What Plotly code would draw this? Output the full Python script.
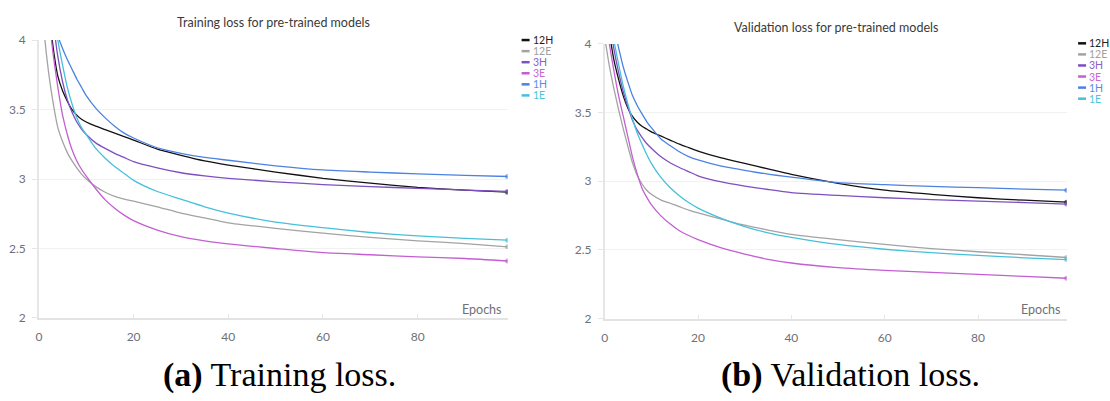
import plotly.graph_objects as go

# ---- data -------------------------------------------------------------
epochs = [0, 1, 2, 3, 4, 5, 6, 7, 8, 9, 10, 12, 14, 16, 18, 20, 25, 30, 35, 40, 50, 60, 70, 80, 90, 99]
series_names = ["12H", "12E", "3H", "3E", "1H", "1E"]

train_12H = [5.0, 4.6, 4.25, 3.95, 3.74, 3.635, 3.56, 3.50, 3.46, 3.43, 3.41, 3.38, 3.355, 3.33, 3.305, 3.28, 3.215, 3.17, 3.13, 3.10, 3.05, 3.005, 2.97, 2.94, 2.92, 2.905]
train_12E = [4.6, 4.1, 3.78, 3.55, 3.37, 3.27, 3.19, 3.13, 3.08, 3.035, 3.00, 2.945, 2.905, 2.875, 2.855, 2.84, 2.80, 2.755, 2.72, 2.685, 2.645, 2.61, 2.58, 2.555, 2.535, 2.512]
train_3H = [5.3, 4.9, 4.5, 4.15, 3.88, 3.70, 3.57, 3.48, 3.41, 3.36, 3.32, 3.26, 3.22, 3.185, 3.155, 3.125, 3.08, 3.045, 3.022, 3.005, 2.98, 2.96, 2.945, 2.933, 2.92, 2.91]
train_3E = [5.2, 4.6, 4.2, 3.90, 3.66, 3.46, 3.32, 3.21, 3.13, 3.07, 3.02, 2.93, 2.85, 2.79, 2.74, 2.70, 2.632, 2.585, 2.555, 2.533, 2.50, 2.47, 2.455, 2.44, 2.428, 2.41]
train_1H = [5.3, 4.9, 4.45, 4.2, 4.03, 3.94, 3.86, 3.79, 3.72, 3.66, 3.60, 3.51, 3.44, 3.38, 3.33, 3.295, 3.225, 3.185, 3.155, 3.135, 3.095, 3.065, 3.05, 3.037, 3.026, 3.018]
train_1E = [5.6, 5.1, 4.7, 4.35, 4.0, 3.82, 3.66, 3.54, 3.44, 3.37, 3.32, 3.22, 3.15, 3.09, 3.04, 2.99, 2.91, 2.855, 2.80, 2.755, 2.69, 2.65, 2.615, 2.59, 2.573, 2.56]

val_12H = [4.3, 4.08, 3.88, 3.74, 3.62, 3.53, 3.47, 3.43, 3.40, 3.38, 3.36, 3.33, 3.30, 3.27, 3.245, 3.22, 3.17, 3.13, 3.09, 3.05, 2.985, 2.935, 2.905, 2.88, 2.862, 2.848]
val_12E = [4.05, 3.84, 3.67, 3.52, 3.38, 3.25, 3.13, 3.04, 2.98, 2.935, 2.905, 2.865, 2.84, 2.815, 2.79, 2.77, 2.725, 2.68, 2.645, 2.614, 2.575, 2.54, 2.51, 2.487, 2.465, 2.445]
val_3H = [4.45, 4.18, 3.96, 3.79, 3.65, 3.54, 3.44, 3.37, 3.32, 3.275, 3.24, 3.18, 3.135, 3.10, 3.07, 3.04, 2.995, 2.965, 2.94, 2.918, 2.897, 2.88, 2.867, 2.856, 2.845, 2.834]
val_3E = [4.2, 4.0, 3.80, 3.62, 3.47, 3.32, 3.17, 3.05, 2.95, 2.885, 2.83, 2.75, 2.69, 2.64, 2.605, 2.575, 2.515, 2.47, 2.432, 2.405, 2.372, 2.352, 2.337, 2.322, 2.307, 2.294]
val_1H = [4.6, 4.35, 4.12, 3.97, 3.83, 3.72, 3.62, 3.55, 3.49, 3.435, 3.39, 3.31, 3.26, 3.215, 3.18, 3.155, 3.11, 3.08, 3.052, 3.03, 2.99, 2.975, 2.963, 2.953, 2.943, 2.935]
val_1E = [4.4, 4.2, 4.02, 3.85, 3.69, 3.56, 3.45, 3.35, 3.27, 3.195, 3.13, 3.03, 2.955, 2.895, 2.845, 2.805, 2.73, 2.67, 2.625, 2.592, 2.54, 2.505, 2.48, 2.46, 2.443, 2.43]

x_ticks = [0, 20, 40, 60, 80]
y_ticks = [2, 2.5, 3, 3.5, 4]
y_tick_labels = ["2", "2.5", "3", "3.5", "4"]

train = [train_12H, train_12E, train_3H, train_3E, train_1H, train_1E]
val = [val_12H, val_12E, val_3H, val_3E, val_1H, val_1E]

# ---- styling ----------------------------------------------------------
line_colors = ["#111111", "#a3a3a3", "#7e4fc0", "#c35fd2", "#4c82e2", "#46c0da"]
text_colors = ["#222222", "#a0a0a0", "#8a5fcc", "#c768d4", "#5a8ce6", "#4cc3dc"]

W, H = 1110, 401
TICK_FONT = dict(family="Lato", size=12, color="#707078")


def px(x):
    return x / W


def py(y):
    return 1 - y / H


fig = go.Figure()

panels = [
    dict(data=train, xa="x", ya="y", xdom=(36, 506), ydom=(322, 33.3),
         title="Training loss for pre-trained models", title_y=15,
         caption="<b>(a)</b> Training loss.", cap_x=277,
         leg_x=520, leg_y=[33.3, 44.8, 56.3, 67.8, 79.3, 90.8]),
    dict(data=val, xa="x2", ya="y2", xdom=(603.3, 1066.6), ydom=(322.7, 37.3),
         title="Validation loss for pre-trained models", title_y=20,
         caption="<b>(b)</b> Validation loss.", cap_x=850,
         leg_x=1078, leg_y=[36.7, 48.2, 59.7, 71.2, 82.7, 94.2]),
]

shapes = []
annotations = []
n = len(epochs)

for p in panels:
    for name, vals, lc in zip(series_names, p["data"], line_colors):
        fig.add_trace(go.Scatter(
            x=epochs, y=vals, xaxis=p["xa"], yaxis=p["ya"], name=name,
            mode="lines+markers",
            line=dict(color=lc, width=1.3, shape="spline", smoothing=0.6),
            marker=dict(size=[0] * (n - 1) + [5], color=lc, line=dict(width=0)),
            showlegend=False,
        ))
    cx = (p["xdom"][0] + p["xdom"][1]) / 2
    annotations.append(dict(
        text=p["title"], x=px(cx), y=py(p["title_y"]), xref="paper", yref="paper",
        xanchor="center", yanchor="middle", showarrow=False,
        font=dict(family="Lato", size=12.5, color="#3a3a3a"),
    ))
    annotations.append(dict(
        text="Epochs", x=px(p["xdom"][1] - 4), y=py(313.5), xref="paper", yref="paper",
        xanchor="right", yanchor="middle", showarrow=False,
        font=dict(family="Lato", size=12.5, color="#707078"),
    ))
    annotations.append(dict(
        text=p["caption"], x=px(p["cap_x"]), y=py(381), xref="paper", yref="paper",
        xanchor="center", yanchor="middle", showarrow=False,
        font=dict(family="Liberation Serif", size=34, color="#000000"),
    ))
    # legend: short line sample + coloured label
    for name, lc, tc, ly in zip(series_names, line_colors, text_colors, p["leg_y"]):
        shapes.append(dict(
            type="line", xref="paper", yref="paper",
            x0=px(p["leg_x"]), x1=px(p["leg_x"] + 8), y0=py(ly), y1=py(ly),
            line=dict(color=lc, width=2.5),
        ))
        annotations.append(dict(
            text=name, x=px(p["leg_x"] + 10), y=py(ly), xref="paper", yref="paper",
            xanchor="left", yanchor="middle", showarrow=False, borderpad=0,
            font=dict(family="Lato", size=10.5, color=tc),
        ))

axis_common_x = dict(
    range=[0, 99], tickvals=x_ticks, showgrid=False, zeroline=False,
    showline=True, linecolor="#e3e3e3", linewidth=2,
    ticks="inside", ticklen=4, tickcolor="#e6e6e6", tickwidth=1,
    tickfont=TICK_FONT, ticklabelstandoff=7,
)
axis_common_y = dict(
    range=[2, 4], tickvals=y_ticks, ticktext=y_tick_labels,
    showgrid=True, gridcolor="#f1f1f1", gridwidth=1, zeroline=False,
    showline=True, linecolor="#e6e6e6", linewidth=1.5,
    ticks="outside", ticklen=5, tickcolor="#e6e6e6", tickwidth=1,
    tickfont=TICK_FONT, ticklabelstandoff=4,
)

fig.update_layout(
    width=W, height=H,
    margin=dict(l=0, r=0, t=0, b=0),
    paper_bgcolor="white", plot_bgcolor="white",
    showlegend=False,
    xaxis=dict(domain=[px(36), px(506)], anchor="y", **axis_common_x),
    yaxis=dict(domain=[py(322), py(33.3)], anchor="x", **axis_common_y),
    xaxis2=dict(domain=[px(603.3), px(1066.6)], anchor="y2", **axis_common_x),
    yaxis2=dict(domain=[py(322.7), py(37.3)], anchor="x2", **axis_common_y),
    shapes=shapes,
    annotations=annotations,
)

fig.write_html("out.html")
